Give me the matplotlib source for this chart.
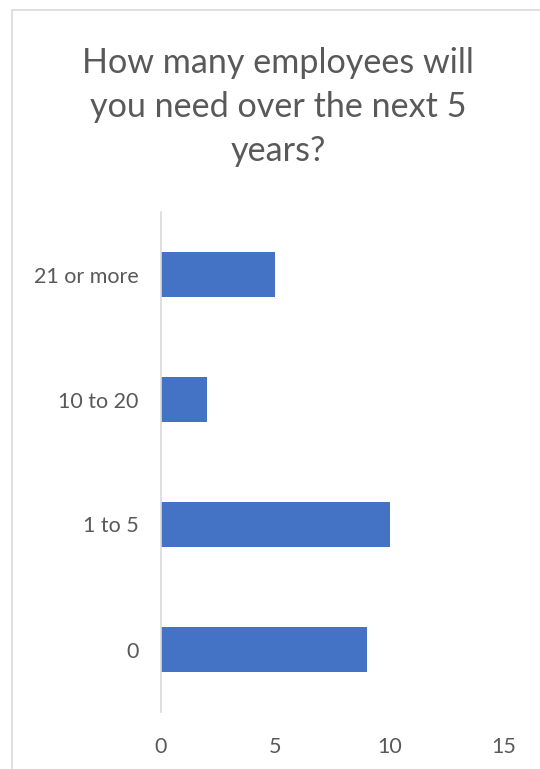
import matplotlib.pyplot as plt
from matplotlib.patches import Rectangle

# survey answers
categories = ['0', '1 to 5', '10 to 20', '21 or more']
counts = [9, 10, 2, 5]
xticks = [0, 5, 10, 15]

plt.rcParams['font.family'] = ['Lato', 'DejaVu Sans']
grey = '#595959'

fig = plt.figure(figsize=(5.4, 7.69), dpi=100)

# light chart border (cropped at right and bottom)
fig.patches.append(Rectangle((12 / 540, -0.05), 1.2, (759 / 769) + 0.05,
                             transform=fig.transFigure, fill=False,
                             edgecolor='#d9d9d9', linewidth=1.2))

ax = fig.add_axes([161 / 540, 57 / 769, (504 - 161) / 540, 500 / 769])
ax.barh(range(len(categories)), counts, height=0.36, color='#4472C4')

ax.set_xlim(0, 15)
ax.set_ylim(-0.5, len(categories) - 0.5)
ax.set_xticks(xticks)
ax.set_yticks(range(len(categories)))
ax.set_yticklabels(categories)

for s in ['top', 'right', 'bottom']:
    ax.spines[s].set_visible(False)
ax.spines['left'].set_color('#d9d9d9')
ax.spines['left'].set_linewidth(1.2)
ax.tick_params(length=0, labelsize=15.5, colors=grey)
ax.tick_params(axis='y', pad=16)
ax.tick_params(axis='x', pad=18)

fig.text(278 / 540, 1 - 107 / 769, 'How many employees will\nyou need over the next 5\nyears?',
         ha='center', va='center', fontsize=24.6, color=grey, linespacing=1.45)

fig.savefig('out.png', dpi=100)
